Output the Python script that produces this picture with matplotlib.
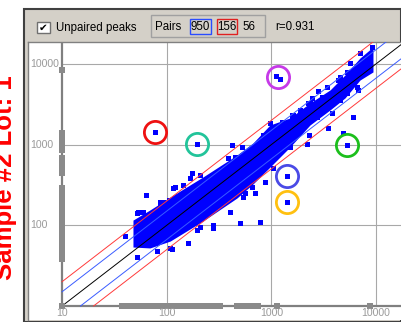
import numpy as np
import matplotlib
matplotlib.use("Agg")
import matplotlib.pyplot as plt
from matplotlib.patches import Rectangle
from matplotlib.transforms import blended_transform_factory

W, H = 401, 322

# dense core of the paired peaks (sample 1 on x, sample 2 on y)
core_x = [47.6, 69.2, 108, 222, 469, 667, 970, 1506, 2337, 3630, 5047, 7020, 9340]
core_lo = [53.8, 52.4, 63.8, 113, 218, 325, 527, 934, 1750, 2685, 3780, 6310, 7940]
core_hi = [116, 155, 224, 397, 743, 1047, 1750, 2138, 3275, 4750, 7280, 11830, 16190]

# scattered pairs around the core
pair_x = [418, 520, 387, 449, 167, 208, 144, 116, 64, 86, 104, 53.5, 60, 279, 279,
          501, 778, 208, 194, 161, 108, 403, 539, 697, 649, 869, 1042, 40, 52, 80,
          112, 560, 3490, 4860, 5970, 2300, 2170, 1506, 2806, 3373, 6760, 2337, 1876,
          1563, 970, 1122, 1743, 120, 93, 86, 52, 173, 2427, 1620, 1400, 4520, 5236, 4355,
          2710, 2250, 3630, 3767, 4519, 5236, 4355, 6530, 5640, 7020, 9080, 3020,
          1563, 1876, 1253, 970, 838]
pair_y = [989, 942, 676, 708, 382, 420, 316, 287, 237, 196, 206, 147, 147, 101, 92,
          106, 111, 96, 88, 60, 52, 147, 226, 249, 301, 347, 508, 74, 41, 48,
          51, 251, 1590, 1380, 2220, 1315, 1017, 942, 4660, 5213, 4750, 3250, 2685,
          2327, 1837, 1253, 1517, 301, 196, 170, 143, 441, 3750, 2327, 1750, 6940, 8000, 4528,
          2218, 3250, 3250, 2443, 3575, 4325, 6310, 5213, 10160, 13520, 16330, 3925,
          2118, 1837, 1924, 1517, 1315]

# circled outliers
flag_x = [77, 194, 1107, 1208, 5309, 1400, 1400]
flag_y = [1420, 1017, 7080, 6546, 989, 408, 196]
circle_x = [77, 194, 1156, 5309, 1400, 1400]
circle_y = [1420, 1017, 6810, 989, 408, 196]
circle_colors = ["#ee1111", "#22c49a", "#c63ae8", "#1cbf1c", "#4a4ae6", "#ffc010"]

# unpaired peaks: only in sample 2 (drawn on x=10), only in sample 1 (drawn on y=10)
only_y = [10, 38, 41, 45, 49, 53, 58, 63, 69, 75, 82, 89, 97, 106, 115, 125, 137, 149,
          162, 177, 193, 210, 229, 250, 272, 290, 450, 500, 560, 620, 690,
          860, 960, 1080, 1200, 1400, 8400]
only_x = [10, 37, 40, 44, 48, 52, 57, 62, 67, 73, 80, 87, 95, 103, 112, 122, 133, 145,
          158, 172, 187, 203, 216, 245, 270, 300, 320, 470, 520, 575, 635, 700, 745,
          1120, 8700]

ratios = [1, 1.5, 1 / 1.5, 2, 0.5]
ratio_colors = ["#000000", "#3a5cff", "#3a5cff", "#ff3a3a", "#ff3a3a"]

grid_vals = [100, 1000, 10000]
tick_vals = [10, 100, 1000, 10000]
r_value = 0.931
n_pairs, n_only1, n_only2 = 950, 156, 56


def fx(px):
    return px / W


def fy(py):
    return 1 - py / H


fig = plt.figure(figsize=(W / 100, H / 100), dpi=100)
fig.patch.set_facecolor("white")

# window
fig.add_artist(Rectangle((fx(23.5), 0), 1 - fx(23.5), fy(9), transform=fig.transFigure,
                         facecolor="#d4d0c8", edgecolor="#404040", lw=1.5, zorder=-5))

ax = fig.add_axes([fx(28), fy(320), 1 - fx(28), fy(42) - fy(320)])
ax.set_xscale("log")
ax.set_yscale("log")
xmin, xmax = 4.73, 17300
ymin, ymax = 6.71, 18660
ax.set_xlim(xmin, xmax)
ax.set_ylim(ymin, ymax)
ax.set_facecolor("white")
ax.tick_params(which="both", length=0, labelbottom=False, labelleft=False)
for s in ["bottom", "right"]:
    ax.spines[s].set_visible(False)
for s in ["top", "left"]:
    ax.spines[s].set_color("#808080")
    ax.spines[s].set_linewidth(1)

for v in grid_vals:
    ax.plot([10, xmax], [v, v], color="#a8a8a8", lw=0.8, zorder=1)
    ax.plot([v, v], [10, ymax], color="#a8a8a8", lw=0.8, zorder=1)
ax.plot([10, xmax], [10, 10], color="#808080", lw=1.6, zorder=1)
ax.plot([10, 10], [10, ymax], color="#808080", lw=1.6, zorder=1)

# pairs
ax.fill_between(core_x, core_lo, core_hi, color="#0000ff", lw=0, zorder=3)
ax.plot(pair_x, pair_y, "s", color="#0000ff", ms=3.6, mew=0, zorder=3)
ax.plot(flag_x, flag_y, "s", color="#0000ff", ms=3.6, mew=0, zorder=3)

# ratio lines
for f, c in zip(ratios, ratio_colors):
    x0 = max(10, 10 / f)
    xs = np.array([x0, 30000])
    ax.plot(xs, f * xs, color=c, lw=0.7, zorder=4)

# unpaired peaks
ax.plot([10] * len(only_y), only_y, "s", color="#8a8a8a", ms=4.3, mew=0, zorder=5, clip_on=False)
ax.plot(only_x, [10] * len(only_x), "s", color="#8a8a8a", ms=4.0, mew=0, zorder=5, clip_on=False)

# circles
for cx, cy, c in zip(circle_x, circle_y, circle_colors):
    ax.plot(cx, cy, "o", mfc="none", mec=c, ms=16, mew=2, zorder=6)

# tick labels
ty = blended_transform_factory(ax.transAxes, ax.transData)
tx = blended_transform_factory(ax.transData, fig.transFigure)
for v in tick_vals[1:]:
    ax.text((30 - 28) / (W - 28), v, str(v), transform=ty, ha="left", va="center",
            color="#9a9a9a", fontsize=7.6, family="Liberation Sans", zorder=7)
for v in tick_vals:
    ax.text(v, fy(313.5), str(v), transform=tx, ha="center", va="center",
            color="#9a9a9a", fontsize=7.6, family="Liberation Sans", zorder=7)

# toolbar
fig.add_artist(Rectangle((fx(37), fy(33)), fx(13), 11 / H, transform=fig.transFigure,
                         facecolor="white", edgecolor="#707070", lw=1))
fig.text(fx(43.5), fy(27.8), "\u2714", ha="center", va="center", fontsize=7.5,
         family="DejaVu Sans", color="black")
tb = dict(va="center", fontsize=8.3, family="Liberation Sans", color="black")
fig.text(fx(56), fy(27.5), "Unpaired peaks", ha="left", **tb)
fig.add_artist(Rectangle((fx(151), fy(37)), fx(114), 22 / H, transform=fig.transFigure,
                         facecolor="none", edgecolor="#a0a0a0", lw=1))
fig.text(fx(155), fy(26.5), "Pairs", ha="left", **tb)
fig.add_artist(Rectangle((fx(190), fy(34)), fx(21), 15 / H, transform=fig.transFigure,
                         facecolor="none", edgecolor="#2a4cff", lw=1))
fig.text(fx(200.5), fy(26.5), str(n_pairs), ha="center", **tb)
fig.add_artist(Rectangle((fx(217), fy(34)), fx(20), 15 / H, transform=fig.transFigure,
                         facecolor="none", edgecolor="#e02020", lw=1))
fig.text(fx(227), fy(26.5), str(n_only1), ha="center", **tb)
fig.text(fx(242), fy(26.5), str(n_only2), ha="left", **tb)
fig.text(fx(275), fy(26.5), "r=%.3f" % r_value, ha="left", **tb)

# slide label, cut by the window
fig.text(fx(12), fy(280), "Sample #2 Lot: 1", rotation=90, rotation_mode="anchor",
         ha="left", va="baseline", color="red", fontsize=18.5, fontweight="bold",
         family="Liberation Sans")

fig.savefig("out.png", dpi=100)
